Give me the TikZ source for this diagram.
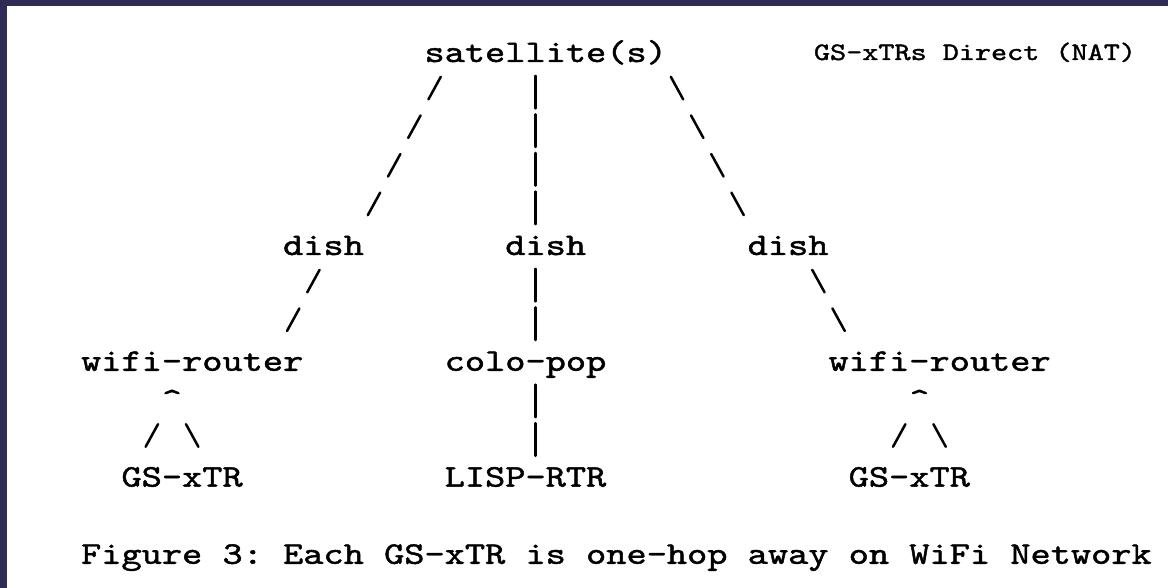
\documentclass[tikz,border=0pt]{standalone}
\usepackage{graphicx}
\usepackage{fontspec}
\newfontfamily\monofam{lmmono10-regular.otf}[FakeBold=1.3]
\definecolor{edgeband}{RGB}{46,44,84}
% character grid of the ASCII drawing (all values in bp)
\def\W{20.2}   % cell width
\def\H{38.6}   % line pitch
\def\XO{20.5}  % left edge of column 0
\def\YO{62}    % baseline of row 0
\newcommand\mono{\fontsize{31.5bp}{31.5bp}\selectfont\monofam\frenchspacing}
\newcommand\monosmall{\fontsize{25.1bp}{25.1bp}\selectfont\monofam\frenchspacing}
\newcommand\wide[1]{\scalebox{1.2215}[1]{#1}}
\tikzset{
  lbl/.style={anchor=base west, inner sep=0pt, outer sep=0pt, font=\mono},
  glyph/.style={line width=2.5bp, line cap=round, black},
  fs/.pic={\draw[glyph] (-6.2bp,1.2bp) -- (6.2bp,23.8bp);},
  bs/.pic={\draw[glyph] (-6.2bp,23.8bp) -- (6.2bp,1.2bp);},
  vb/.pic={\draw[glyph] (0bp,-7.8bp) -- (0bp,24.8bp);},
}
\begin{document}
\begin{tikzpicture}[x=1bp,y=1bp]
\useasboundingbox (0,0) rectangle (1168,-588);
\fill[white] (0,0) rectangle (1168,-588);
\fill[edgeband] (0,0) rectangle (1168,-6);
\fill[edgeband] (0,0) rectangle (7,-588);

% labels
\node[lbl] (sat)   at ({\XO+\W*20},{-(\YO+\H*0)})  {\wide{satellite(s)}};
\node[lbl, font=\monosmall] (title) at (814,-60) {\wide{GS-xTRs Direct (NAT)}};
\node[lbl] (dishL) at ({\XO+\W*13},{-(\YO+\H*5)})  {\wide{dish}};
\node[lbl] (dishC) at ({\XO+\W*24},{-(\YO+\H*5)})  {\wide{dish}};
\node[lbl] (dishR) at ({\XO+\W*36},{-(\YO+\H*5)})  {\wide{dish}};
\node[lbl] (wifiL) at ({\XO+\W*3},{-(\YO+\H*8)})   {\wide{wifi-router}};
\node[lbl] (colo)  at ({\XO+\W*21},{-(\YO+\H*8)})  {\wide{colo-pop}};
\node[lbl] (wifiR) at ({\XO+\W*40},{-(\YO+\H*8)})  {\wide{wifi-router}};
\node[lbl] (caretL) at ({\XO+\W*7},{-(\YO+\H*9)})  {\wide{\textasciicircum}};
\node[lbl] (caretR) at ({\XO+\W*44},{-(\YO+\H*9)}) {\wide{\textasciicircum}};
\node[lbl] (gsL)   at ({\XO+\W*5},{-(\YO+\H*11)})  {\wide{GS-xTR}};
\node[lbl] (rtr)   at ({\XO+\W*21},{-(\YO+\H*11)}) {\wide{LISP-RTR}};
\node[lbl] (gsR)   at ({\XO+\W*41},{-(\YO+\H*11)}) {\wide{GS-xTR}};
\node[lbl] (caption) at ({\XO+\W*3},{-(\YO+\H*13)})
  {\wide{Figure 3: Each GS-xTR is one-hop away on WiFi Network}};

% link strokes, one per character cell
\foreach \c/\r in {20/1,19/2,18/3,17/4,14/6,13/7,6/10,43/10}
  \pic at ({\XO+\W*(\c+0.5)},{-(\YO+\H*\r)}) {fs};
\foreach \c/\r in {32/1,33/2,34/3,35/4,39/6,40/7,8/10,45/10}
  \pic at ({\XO+\W*(\c+0.5)},{-(\YO+\H*\r)}) {bs};
\foreach \r in {1,2,3,4,6,7,9,10}
  \pic at ({\XO+\W*25.5},{-(\YO+\H*\r)}) {vb};
\end{tikzpicture}
\end{document}
